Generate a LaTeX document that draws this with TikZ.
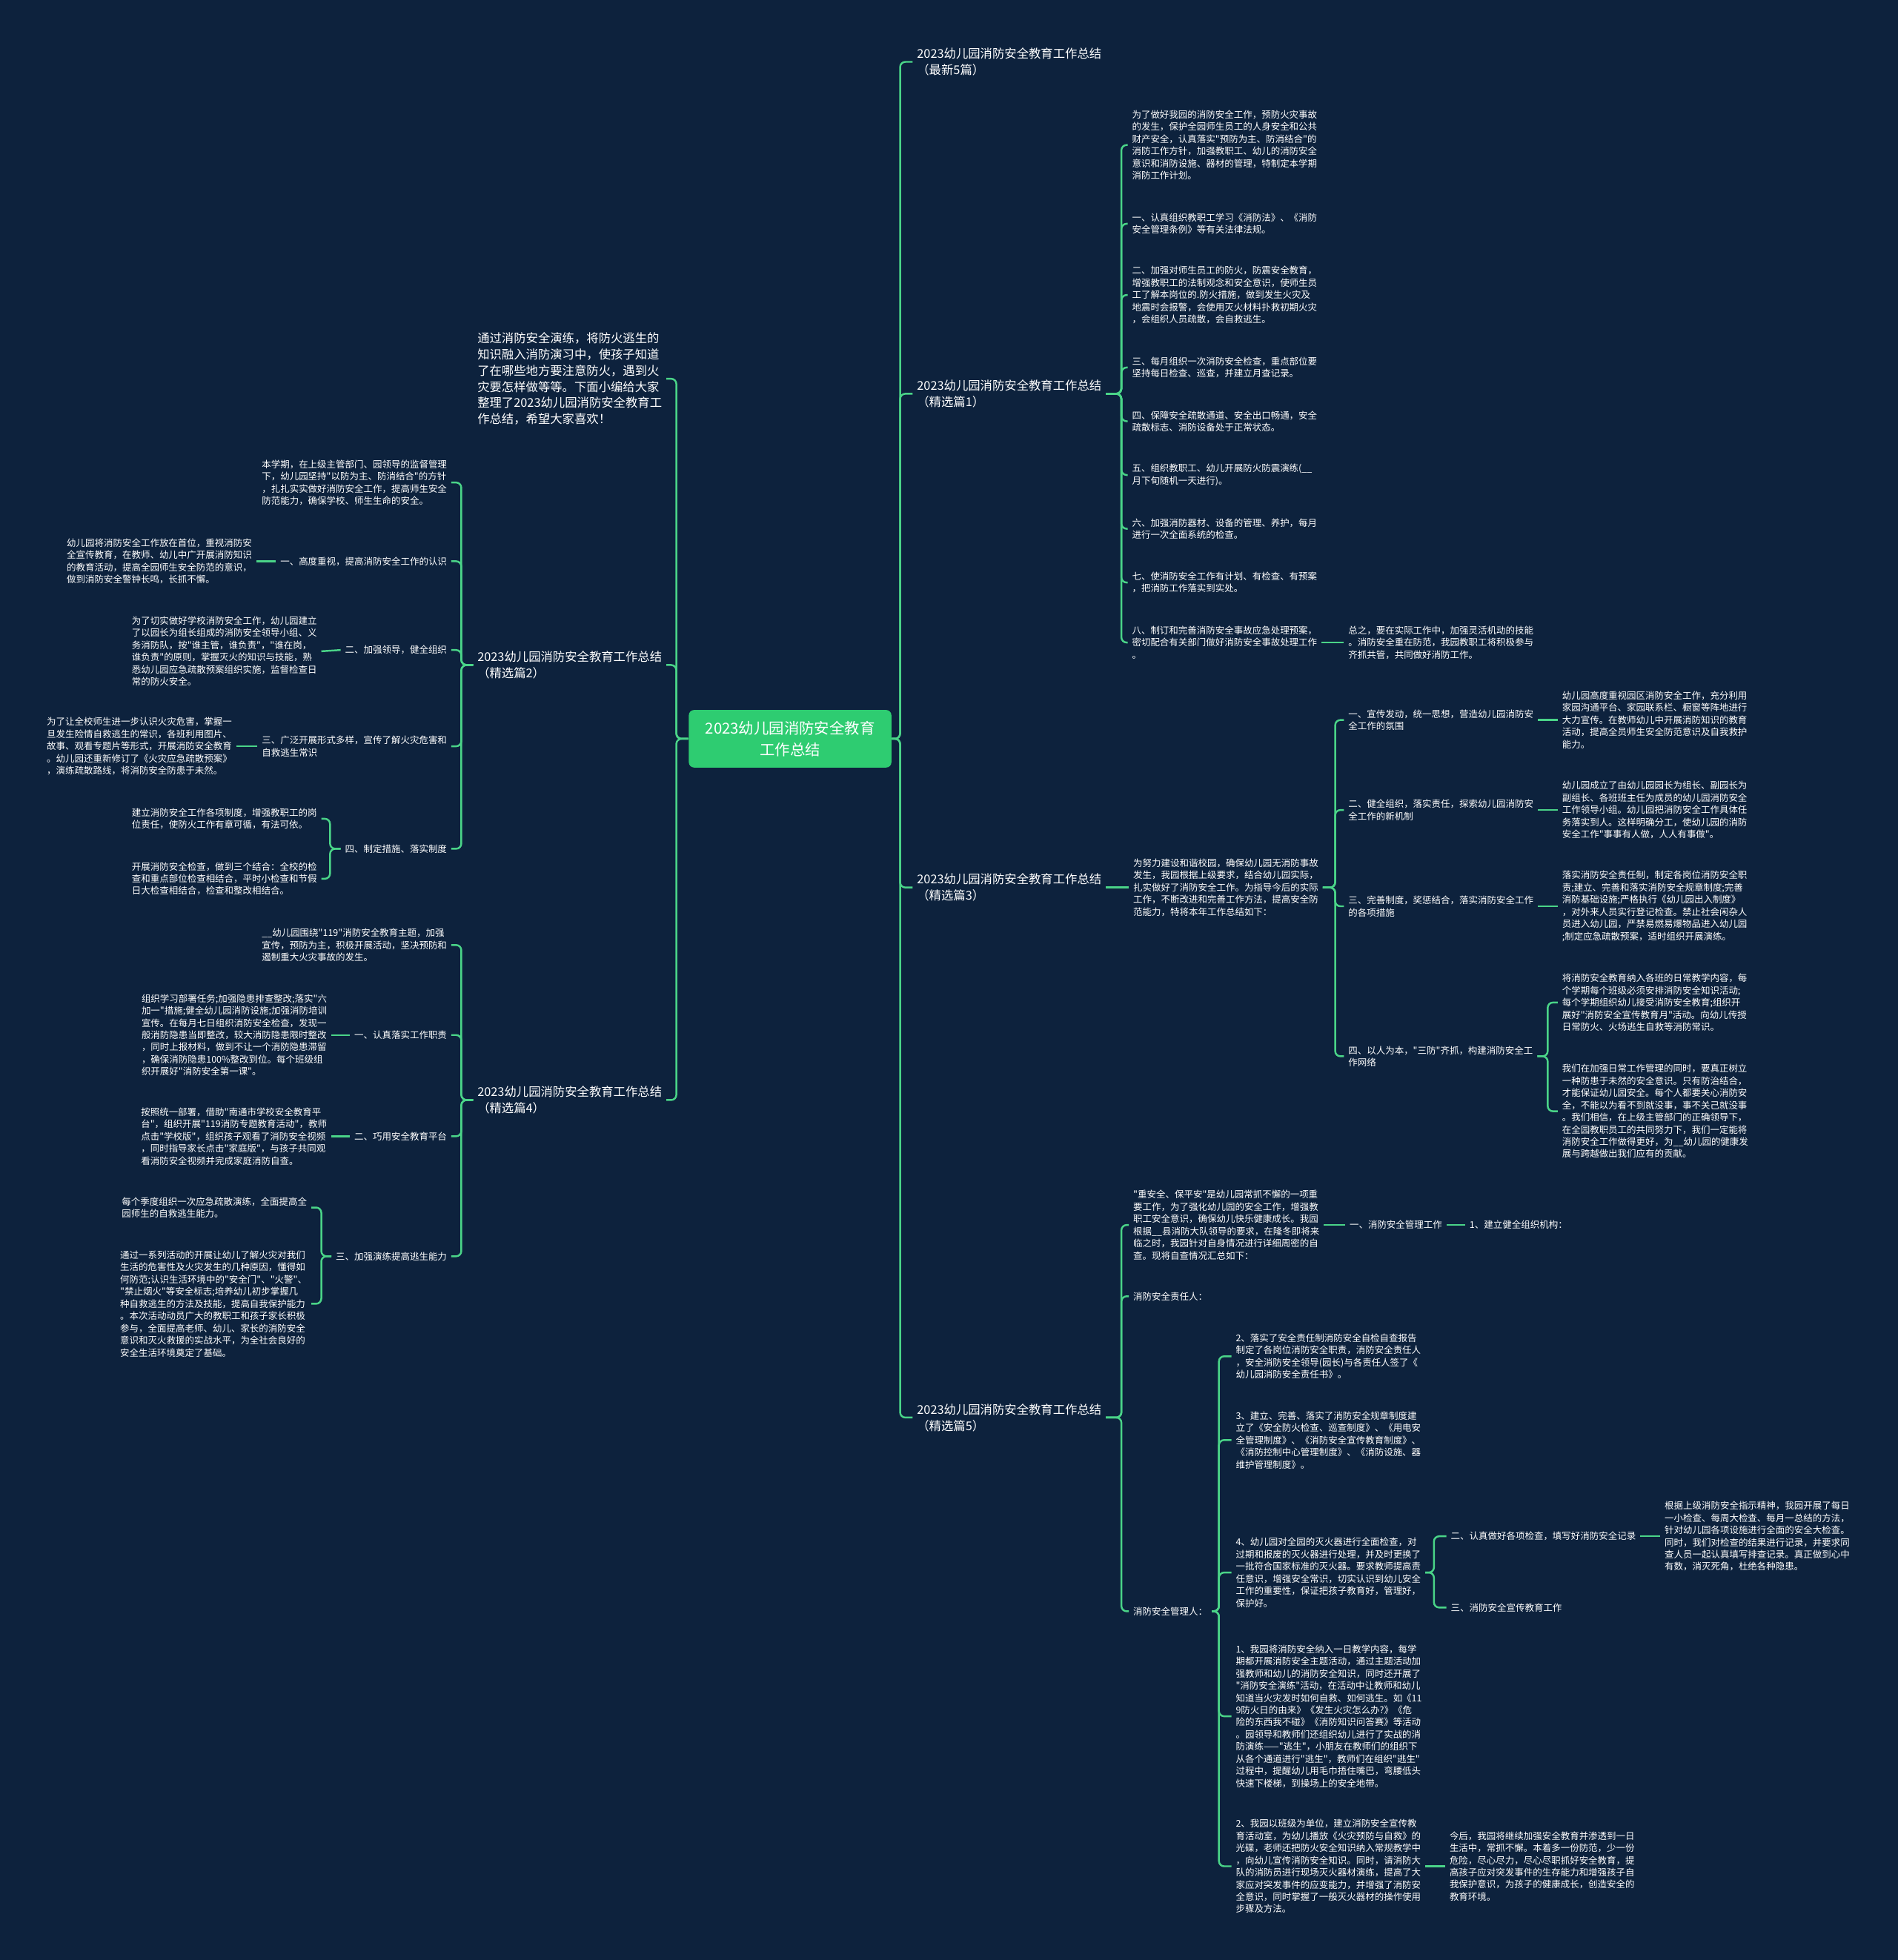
\documentclass[tikz,border=0pt]{standalone}
\usepackage{fontspec}
\setmainfont{Noto Sans CJK SC}[Ligatures=TeXOff]
\usepackage{tikz}
\usetikzlibrary{positioning,calc}
\definecolor{bgnavy}{RGB}{13,34,61}
\definecolor{linkgreen}{RGB}{74,212,136}
\definecolor{hubgreen}{RGB}{46,204,113}

\tikzset{
  leaf/.style={font=\fontsize{3.55}{4.68}\selectfont, text=white, align=left,
               inner xsep=1.5pt, inner ysep=0pt},
  rleaf/.style={leaf, anchor=west},
  lleaf/.style={leaf, anchor=east},
  topic/.style={font=\fontsize{4.65}{6.2}\selectfont, text=white, align=left,
                inner xsep=1.5pt, inner ysep=0pt},
  rtopic/.style={topic, anchor=west},
  ltopic/.style={topic, anchor=east},
  hub/.style={rectangle, rounded corners=2pt, fill=hubgreen, text=white,
              minimum width=2.732cm, minimum height=0.776cm, align=center,
              font=\fontsize{5.8}{8.15}\selectfont},
  link/.style={draw=linkgreen, line width=0.7pt, rounded corners=2pt}
}

\begin{document}
\begin{tikzpicture}[x=0.016864cm, y=-0.016864cm]
    \fill[bgnavy] (0,0) rectangle (1518,1568);
    \useasboundingbox (0,0) rectangle (1518,1568);

    % centre
    \node[hub] (hub) at (632,591) {2023幼儿园消防安全教育\\工作总结};
    \coordinate (tR) at (720,591);
    \coordinate (tL) at (541,591);

    % right: main topics
    \node[rtopic] (r0) at (730,49.5) {2023幼儿园消防安全教育工作总结\\（最新5篇）};
    \node[rtopic] (r1) at (730,315) {2023幼儿园消防安全教育工作总结\\（精选篇1）};
    \node[rtopic] (r3) at (730,710) {2023幼儿园消防安全教育工作总结\\（精选篇3）};
    \node[rtopic] (r5) at (730,1134) {2023幼儿园消防安全教育工作总结\\（精选篇5）};
    \foreach \t in {r0,r1,r3,r5}
        \draw[link] (hub.east) -- (tR) |- (\t.west);

    % right: 精选篇1
    \coordinate (t1) at (897,315);
    \node[rleaf] (r1a) at (902,116) {为了做好我园的消防安全工作，预防火灾事故\\的发生，保护全园师生员工的人身安全和公共\\财产安全，认真落实"预防为主、防消结合"的\\消防工作方针，加强教职工、幼儿的消防安全\\意识和消防设施、器材的管理，特制定本学期\\消防工作计划。};
    \node[rleaf] (r1b) at (902,179) {一、认真组织教职工学习《消防法》、《消防\\安全管理条例》等有关法律法规。};
    \node[rleaf] (r1c) at (902,236) {二、加强对师生员工的防火，防震安全教育，\\增强教职工的法制观念和安全意识，使师生员\\工了解本岗位的.防火措施，做到发生火灾及\\地震时会报警，会使用灭火材料扑救初期火灾\\，会组织人员疏散，会自救逃生。};
    \node[rleaf] (r1d) at (902,294) {三、每月组织一次消防安全检查，重点部位要\\坚持每日检查、巡查，并建立月查记录。};
    \node[rleaf] (r1e) at (902,337) {四、保障安全疏散通道、安全出口畅通，安全\\疏散标志、消防设备处于正常状态。};
    \node[rleaf] (r1f) at (902,380) {五、组织教职工、幼儿开展防火防震演练(\_\_\\月下旬随机一天进行)。};
    \node[rleaf] (r1g) at (902,423) {六、加强消防器材、设备的管理、养护，每月\\进行一次全面系统的检查。};
    \node[rleaf] (r1h) at (902,466) {七、使消防安全工作有计划、有检查、有预案\\，把消防工作落实到实处。};
    \node[rleaf] (r1i) at (902,514) {八、制订和完善消防安全事故应急处理预案，\\密切配合有关部门做好消防安全事故处理工作\\。};
    \node[rleaf] (r1i1) at (1075,514) {总之，要在实际工作中，加强灵活机动的技能\\。消防安全重在防范，我园教职工将积极参与\\齐抓共管，共同做好消防工作。};
    \foreach \c in {r1a,r1b,r1c,r1d,r1e,r1f,r1g,r1h,r1i}
        \draw[link] (r1.east) -- (t1) |- (\c.west);
    \draw[link] (r1i.east) -- (r1i1.west);

    % right: 精选篇3
    \node[rleaf] (r3a) at (903,710) {为努力建设和谐校园，确保幼儿园无消防事故\\发生，我园根据上级要求，结合幼儿园实际，\\扎实做好了消防安全工作。为指导今后的实际\\工作，不断改进和完善工作方法，提高安全防\\范能力，特将本年工作总结如下：};
    \draw[link] (r3.east) -- (r3a.west);
    \coordinate (t3a) at (1068,710);
    \node[rleaf] (r3b) at (1075,576) {一、宣传发动，统一思想，营造幼儿园消防安\\全工作的氛围};
    \node[rleaf] (r3c) at (1075,648) {二、健全组织，落实责任，探索幼儿园消防安\\全工作的新机制};
    \node[rleaf] (r3d) at (1075,725) {三、完善制度，奖惩结合，落实消防安全工作\\的各项措施};
    \node[rleaf] (r3e) at (1075,845) {四、以人为本，"三防"齐抓，构建消防安全工\\作网络};
    \foreach \c in {r3b,r3c,r3d,r3e}
        \draw[link] (r3a.east) -- (t3a) |- (\c.west);
    \node[rleaf] (r3b1) at (1246,576) {幼儿园高度重视园区消防安全工作，充分利用\\家园沟通平台、家园联系栏、橱窗等阵地进行\\大力宣传。在教师幼儿中开展消防知识的教育\\活动，提高全员师生安全防范意识及自我救护\\能力。};
    \node[rleaf] (r3c1) at (1246,648) {幼儿园成立了由幼儿园园长为组长、副园长为\\副组长、各班班主任为成员的幼儿园消防安全\\工作领导小组。幼儿园把消防安全工作具体任\\务落实到人。这样明确分工，使幼儿园的消防\\安全工作"事事有人做，人人有事做"。};
    \node[rleaf] (r3d1) at (1246,725) {落实消防安全责任制，制定各岗位消防安全职\\责;建立、完善和落实消防安全规章制度;完善\\消防基础设施;严格执行《幼儿园出入制度》\\，对外来人员实行登记检查。禁止社会闲杂人\\员进入幼儿园，严禁易燃易爆物品进入幼儿园\\;制定应急疏散预案，适时组织开展演练。};
    \draw[link] (r3b.east) -- (r3b1.west);
    \draw[link] (r3c.east) -- (r3c1.west);
    \draw[link] (r3d.east) -- (r3d1.west);
    \coordinate (t3e) at (1238,845);
    \node[rleaf] (r3e1) at (1246,802) {将消防安全教育纳入各班的日常教学内容，每\\个学期每个班级必须安排消防安全知识活动;\\每个学期组织幼儿接受消防安全教育;组织开\\展好"消防安全宣传教育月"活动。向幼儿传授\\日常防火、火场逃生自救等消防常识。};
    \node[rleaf] (r3e2) at (1246,889) {我们在加强日常工作管理的同时，要真正树立\\一种防患于未然的安全意识。只有防治结合，\\才能保证幼儿园安全。每个人都要关心消防安\\全，不能以为看不到就没事，事不关己就没事\\。我们相信，在上级主管部门的正确领导下，\\在全园教职员工的共同努力下，我们一定能将\\消防安全工作做得更好，为\_\_幼儿园的健康发\\展与跨越做出我们应有的贡献。};
    \foreach \c in {r3e1,r3e2}
        \draw[link] (r3e.east) -- (t3e) |- (\c.west);

    % right: 精选篇5
    \coordinate (t5) at (897,1134);
    \node[rleaf] (r5a) at (903,980) {"重安全、保平安"是幼儿园常抓不懈的一项重\\要工作，为了强化幼儿园的安全工作，增强教\\职工安全意识，确保幼儿快乐健康成长。我园\\根据\_\_县消防大队领导的要求，在隆冬即将来\\临之时，我园针对自身情况进行详细周密的自\\查。现将自查情况汇总如下：};
    \node[rleaf] (r5b) at (903,1037) {消防安全责任人：};
    \node[rleaf] (r5c) at (903,1289) {消防安全管理人：};
    \foreach \c in {r5a,r5b,r5c}
        \draw[link] (r5.east) -- (t5) |- (\c.west);
    \node[rleaf] (r5a1) at (1076,980) {一、消防安全管理工作};
    \node[rleaf] (r5a2) at (1172,980) {1、建立健全组织机构：};
    \draw[link] (r5a.east) -- (r5a1.west);
    \draw[link] (r5a1.east) -- (r5a2.west);

    \coordinate (t5c) at (975,1289);
    \node[rleaf] (r5c1) at (985,1085) {2、落实了安全责任制消防安全自检自查报告\\制定了各岗位消防安全职责，消防安全责任人\\，安全消防安全领导(园长)与各责任人签了《\\幼儿园消防安全责任书》。};
    \node[rleaf] (r5c2) at (985,1152) {3、建立、完善、落实了消防安全规章制度建\\立了《安全防火检查、巡查制度》、《用电安\\全管理制度》、《消防安全宣传教育制度》、\\《消防控制中心管理制度》、《消防设施、器\\维护管理制度》。};
    \node[rleaf] (r5c3) at (985,1258) {4、幼儿园对全园的灭火器进行全面检查，对\\过期和报废的灭火器进行处理，并及时更换了\\一批符合国家标准的灭火器。要求教师提高责\\任意识，增强安全常识，切实认识到幼儿安全\\工作的重要性，保证把孩子教育好，管理好，\\保护好。};
    \node[rleaf] (r5c4) at (985,1373) {1、我园将消防安全纳入一日教学内容，每学\\期都开展消防安全主题活动，通过主题活动加\\强教师和幼儿的消防安全知识，同时还开展了\\"消防安全演练"活动，在活动中让教师和幼儿\\知道当火灾发时如何自救、如何逃生。如《11\\9防火日的由来》《发生火灾怎么办?》《危\\险的东西我不碰》《消防知识问答赛》等活动\\。园领导和教师们还组织幼儿进行了实战的消\\防演练——"逃生"，小朋友在教师们的组织下\\从各个通道进行"逃生"，教师们在组织"逃生"\\过程中，提醒幼儿用毛巾捂住嘴巴，弯腰低头\\快速下楼梯，到操场上的安全地带。};
    \node[rleaf] (r5c5) at (985,1493) {2、我园以班级为单位，建立消防安全宣传教\\育活动室，为幼儿播放《火灾预防与自救》的\\光碟，老师还把防火安全知识纳入常规教学中\\，向幼儿宣传消防安全知识。同时，请消防大\\队的消防员进行现场灭火器材演练，提高了大\\家应对突发事件的应变能力，并增强了消防安\\全意识，同时掌握了一般灭火器材的操作使用\\步骤及方法。};
    \foreach \c in {r5c1,r5c2,r5c3,r5c4,r5c5}
        \draw[link] (r5c.east) -- (t5c) |- (\c.west);

    \coordinate (t5c3) at (1147,1258);
    \node[rleaf] (r5c3a) at (1157,1229) {二、认真做好各项检查，填写好消防安全记录};
    \node[rleaf] (r5c3b) at (1157,1286) {三、消防安全宣传教育工作};
    \foreach \c in {r5c3a,r5c3b}
        \draw[link] (r5c3.east) -- (t5c3) |- (\c.west);
    \node[rleaf] (r5c3a1) at (1328,1229) {根据上级消防安全指示精神，我园开展了每日\\一小检查、每周大检查、每月一总结的方法，\\针对幼儿园各项设施进行全面的安全大检查。\\同时，我们对检查的结果进行记录，并要求同\\查人员一起认真填写排查记录。真正做到心中\\有数，消灭死角，杜绝各种隐患。};
    \draw[link] (r5c3a.east) -- (r5c3a1.west);
    \node[rleaf] (r5c5a) at (1156,1493) {今后，我园将继续加强安全教育并渗透到一日\\生活中，常抓不懈。本着多一份防范，少一份\\危险，尽心尽力，尽心尽职抓好安全教育，提\\高孩子应对突发事件的生存能力和增强孩子自\\我保护意识，为孩子的健康成长，创造安全的\\教育环境。};
    \draw[link] (r5c5.east) -- (r5c5a.west);

    % left: main topics
    \node[ltopic] (lintro) at (533,303) {通过消防安全演练，将防火逃生的\\知识融入消防演习中，使孩子知道\\了在哪些地方要注意防火，遇到火\\灾要怎样做等等。下面小编给大家\\整理了2023幼儿园消防安全教育工\\作总结，希望大家喜欢！};
    \node[ltopic] (l2) at (533,532) {2023幼儿园消防安全教育工作总结\\（精选篇2）};
    \node[ltopic] (l4) at (533,880) {2023幼儿园消防安全教育工作总结\\（精选篇4）};
    \foreach \t in {lintro,l2,l4}
        \draw[link] (hub.west) -- (tL) |- (\t.east);

    % left: 精选篇2
    \coordinate (t2) at (369,532);
    \node[lleaf] (l2a) at (361,386) {本学期，在上级主管部门、园领导的监督管理\\下，幼儿园坚持"以防为主、防消结合"的方针\\，扎扎实实做好消防安全工作，提高师生安全\\防范能力，确保学校、师生生命的安全。};
    \node[lleaf] (l2b) at (361,449) {一、高度重视，提高消防安全工作的认识};
    \node[lleaf] (l2c) at (361,520) {二、加强领导，健全组织};
    \node[lleaf] (l2d) at (361,597) {三、广泛开展形式多样，宣传了解火灾危害和\\自救逃生常识};
    \node[lleaf] (l2e) at (361,679) {四、制定措施、落实制度};
    \foreach \c in {l2a,l2b,l2c,l2d,l2e}
        \draw[link] (l2.west) -- (t2) |- (\c.east);
    \node[lleaf] (l2b1) at (205,449) {幼儿园将消防安全工作放在首位，重视消防安\\全宣传教育，在教师、幼儿中广开展消防知识\\的教育活动，提高全园师生安全防范的意识，\\做到消防安全警钟长鸣，长抓不懈。};
    \node[lleaf] (l2c1) at (257,521) {为了切实做好学校消防安全工作，幼儿园建立\\了以园长为组长组成的消防安全领导小组、义\\务消防队，按"谁主管，谁负责"，"谁在岗，\\谁负责"的原则，掌握灭火的知识与技能，熟\\悉幼儿园应急疏散预案组织实施，监督检查日\\常的防火安全。};
    \node[lleaf] (l2d1) at (189,597) {为了让全校师生进一步认识火灾危害，掌握一\\旦发生险情自救逃生的常识，各班利用图片、\\故事、观看专题片等形式，开展消防安全教育\\。幼儿园还重新修订了《火灾应急疏散预案》\\，演练疏散路线，将消防安全防患于未然。};
    \draw[link] (l2b.west) -- (l2b1.east);
    \draw[link] (l2c.west) -- (l2c1.east);
    \draw[link] (l2d.west) -- (l2d1.east);
    \coordinate (t2e) at (264,679);
    \node[lleaf] (l2e1) at (257,655) {建立消防安全工作各项制度，增强教职工的岗\\位责任，使防火工作有章可循，有法可依。};
    \node[lleaf] (l2e2) at (257,703) {开展消防安全检查，做到三个结合：全校的检\\查和重点部位检查相结合，平时小检查和节假\\日大检查相结合，检查和整改相结合。};
    \foreach \c in {l2e1,l2e2}
        \draw[link] (l2e.west) -- (t2e) |- (\c.east);

    % left: 精选篇4
    \coordinate (t4) at (369,880);
    \node[lleaf] (l4a) at (361,756) {\_\_幼儿园围绕"119"消防安全教育主题，加强\\宣传，预防为主，积极开展活动，坚决预防和\\遏制重大火灾事故的发生。};
    \node[lleaf] (l4b) at (361,828) {一、认真落实工作职责};
    \node[lleaf] (l4c) at (361,909) {二、巧用安全教育平台};
    \node[lleaf] (l4d) at (361,1005) {三、加强演练提高逃生能力};
    \foreach \c in {l4a,l4b,l4c,l4d}
        \draw[link] (l4.west) -- (t4) |- (\c.east);
    \node[lleaf] (l4b1) at (265,828) {组织学习部署任务;加强隐患排查整改;落实"六\\加一"措施;健全幼儿园消防设施;加强消防培训\\宣传。在每月七日组织消防安全检查，发现一\\般消防隐患当即整改，较大消防隐患限时整改\\，同时上报材料，做到不让一个消防隐患滞留\\，确保消防隐患100\%整改到位。每个班级组\\织开展好"消防安全第一课"。};
    \node[lleaf] (l4c1) at (265,909) {按照统一部署，借助"南通市学校安全教育平\\台"，组织开展"119消防专题教育活动"，教师\\点击"学校版"，组织孩子观看了消防安全视频\\，同时指导家长点击"家庭版"，与孩子共同观\\看消防安全视频并完成家庭消防自查。};
    \draw[link] (l4b.west) -- (l4b1.east);
    \draw[link] (l4c.west) -- (l4c1.east);
    \coordinate (t4d) at (257,1005);
    \node[lleaf] (l4d1) at (249,966) {每个季度组织一次应急疏散演练，全面提高全\\园师生的自救逃生能力。};
    \node[lleaf] (l4d2) at (249,1043) {通过一系列活动的开展让幼儿了解火灾对我们\\生活的危害性及火灾发生的几种原因，懂得如\\何防范;认识生活环境中的"安全门"、"火警"、\\"禁止烟火"等安全标志;培养幼儿初步掌握几\\种自救逃生的方法及技能，提高自我保护能力\\。本次活动动员广大的教职工和孩子家长积极\\参与，全面提高老师、幼儿、家长的消防安全\\意识和灭火救援的实战水平，为全社会良好的\\安全生活环境奠定了基础。};
    \foreach \c in {l4d1,l4d2}
        \draw[link] (l4d.west) -- (t4d) |- (\c.east);
\end{tikzpicture}
\end{document}
